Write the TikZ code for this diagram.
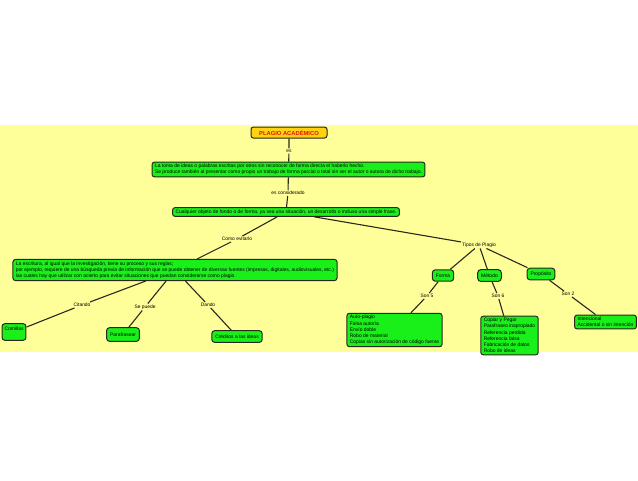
\documentclass[tikz,border=0pt]{standalone}
\usepackage{fontspec}
\setmainfont{Liberation Sans}
\definecolor{bg}{RGB}{255,255,153}
\definecolor{boxgreen}{RGB}{25,240,25}
\definecolor{topfill}{RGB}{255,210,20}
\definecolor{topred}{RGB}{230,20,0}
\definecolor{linec}{RGB}{40,40,30}
\tikzset{
 gbox/.style={draw=linec, fill=boxgreen, rounded corners=2.5pt, line width=1pt, font=\fontsize{4.95}{6.2}\selectfont, align=left, inner xsep=3pt, inner ysep=2pt},
 sbox/.style={gbox, inner xsep=3.5pt, inner ysep=4pt, rounded corners=3pt},
 topbox/.style={draw=linec, fill=topfill, rounded corners=2.5pt, line width=1pt, text=topred, font=\bfseries\fontsize{5.8}{7}\selectfont, minimum width=76pt, minimum height=11pt, inner sep=1pt},
 lbl/.style={font=\fontsize{4.9}{5.5}\selectfont, inner sep=1pt},
 conn/.style={draw=linec, line width=1.1pt}
}
\begin{document}
\begin{tikzpicture}[x=1pt,y=-1pt]
\useasboundingbox (0,0) rectangle (638,480);
\fill[bg] (0,125) rectangle (638,352);
% nodes
\node[topbox] (top) at (289,132.5) {PLAGIO ACADÉMICO};
\node[gbox] (def) at (288.5,169.5) {La toma de ideas o palabras escritas por otros sin reconocer de forma directa el haberlo hecho.\\Se produce también al presentar como propio un trabajo de forma parcial o total sin ser el autor o autora de dicho trabajo.};
\node[gbox] (obj) at (286,212) {Cualquier objeto de fondo o de forma, ya sea una situación, un desarrollo o incluso una simple frase.};
\node[gbox] (esc) at (175,270) {La escritura, al igual que la investigación, tiene su proceso y sus reglas;\\por ejemplo, requiere de una búsqueda previa de información que se puede obtener de diversas fuentes (impresas, digitales, audiovisuales, etc.)\\las cuales hay que utilizar con acierto para evitar situaciones que puedan considerarse como plagio.};
\node[sbox, inner ysep=3.5pt, inner xsep=2.5pt] (com) at (14,332) {Comillas\\~};
\node[sbox, inner ysep=5pt] (par) at (123,334.5) {Parafrasear};
\node[sbox] (cre) at (237,336.5) {Créditos a las ideas};
\node[sbox] (forma) at (443,275.5) {Forma};
\node[sbox] (metodo) at (489.5,275.5) {Método};
\node[sbox, inner ysep=3.5pt] (prop) at (541,274) {Propósito};
\node[gbox] (auto) at (394.5,330) {Auto-plagio\\Falsa autoría\\Envío doble\\Robo de material\\Copias sin autorización de código fuente};
\node[gbox] (cop) at (509.5,335.5) {Copiar y Pegar\\Parafraseo inapropiado\\Referencia perdida\\Referencia falsa\\Fabricación de datos\\Robo de ideas};
\node[gbox] (int) at (605.5,322) {Intencional\\Accidental o sin intención};
% labels
\node[lbl] (l-es) at (289,151) {es};
\node[lbl] (l-cons) at (288,193) {es considerado};
\node[lbl] (l-como) at (237,239) {Como evitarlo};
\node[lbl] (l-tipos) at (479,245) {Tipos de Plagio};
\node[lbl] (l-cit) at (82,305) {Citando};
\node[lbl] (l-sep) at (145,307) {Se puede};
\node[lbl] (l-dan) at (208,305) {Dando};
\node[lbl] (l-s5) at (427,296) {Son 5};
\node[lbl] (l-s6) at (498,296) {Son 6};
\node[lbl] (l-s2) at (568,294) {Son 2};
% connectors
\draw[conn] (top) -- (l-es) -- (def);
\draw[conn] (def) -- (l-cons) -- (obj);
\draw[conn] (obj) -- (l-como) -- (esc);
\draw[conn] (obj) -- (l-tipos);
\draw[conn] (l-tipos) -- (forma);
\draw[conn] (l-tipos) -- (metodo);
\draw[conn] (l-tipos) -- (prop);
\draw[conn] (esc) -- (l-cit) -- (com);
\draw[conn] (esc) -- (l-sep) -- (par);
\draw[conn] (esc) -- (l-dan) -- (cre);
\draw[conn] (forma) -- (l-s5) -- (auto);
\draw[conn] (metodo) -- (l-s6) -- (cop);
\draw[conn] (prop) -- (l-s2) -- (int);
\end{tikzpicture}
\end{document}
